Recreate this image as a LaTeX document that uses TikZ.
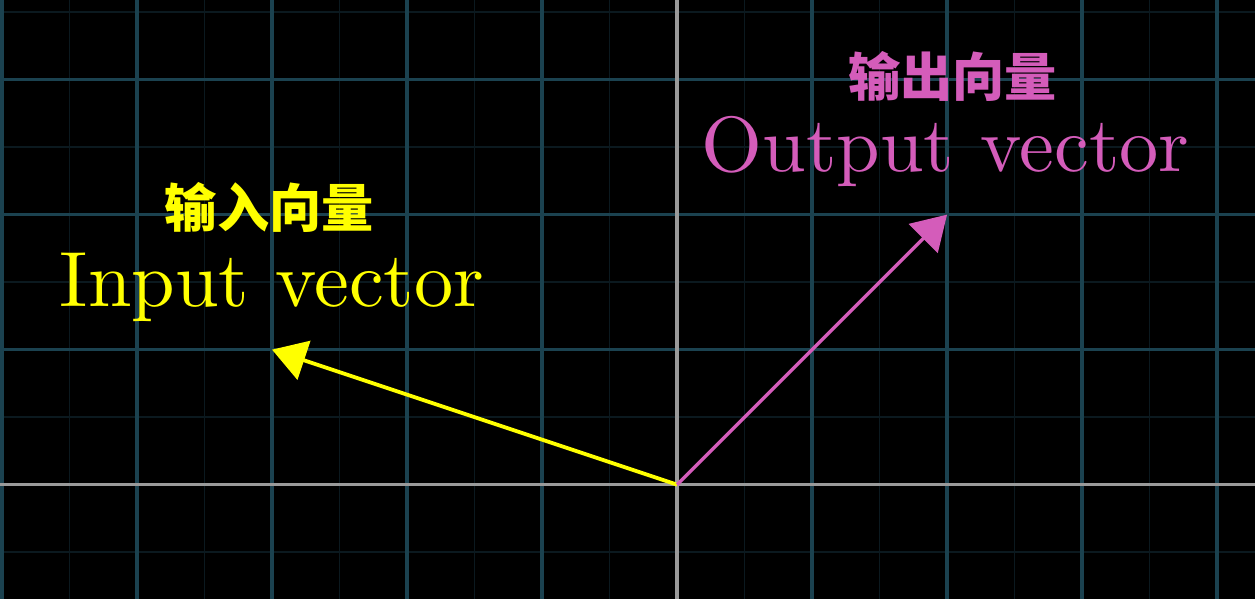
\documentclass[tikz,border=0pt]{standalone}
\usepackage{fontspec}
\setmainfont{lmroman10-regular}[Extension=.otf]
\newfontfamily\cjk{Noto Sans CJK SC}
\usetikzlibrary{arrows.meta, positioning}
\definecolor{vecin}{RGB}{255,255,0}
\definecolor{vecout}{RGB}{212,92,186}
\definecolor{gridmajor}{RGB}{27,66,80}
\definecolor{gridminor}{RGB}{11,25,31}
\definecolor{axisgrey}{RGB}{154,154,154}

\begin{document}
\begin{tikzpicture}[
  vec/.style={line width=0.8pt, -{Triangle[length=0.25cm, width=0.3cm]}},
  enlabel/.style={anchor=base, inner sep=0pt, font=\fontsize{16.5}{20}\selectfont},
  cnlabel/.style={inner sep=0pt, font=\cjk\bfseries\fontsize{11}{13}\selectfont}
]
  % background and frame
  \fill[black] (-5.015,-0.847) rectangle (4.281,3.590);
  \useasboundingbox (-5.015,-0.847) rectangle (4.281,3.590);
  \clip (-5.015,-0.847) rectangle (4.281,3.590);
  % number plane
  \draw[gridminor, line width=0.3pt, step=0.5] (-5.5,-1) grid (4.5,4);
  \draw[gridmajor, line width=0.7pt, step=1] (-5.5,-1) grid (4.5,4);
  \draw[axisgrey, line width=0.7pt] (-5.1,0) -- (4.4,0);
  \draw[axisgrey, line width=0.7pt] (0,-0.9) -- (0,3.7);
  % vectors
  \coordinate (O) at (0,0);
  \coordinate (vin) at (-3,1);
  \coordinate (vout) at (2,2);
  \draw[vec, vecin] (O) -- (vin);
  \draw[vec, vecout, line width=0.7pt] (O) -- (vout);
  % labels
  \node[enlabel, vecin] (inlabel) at (-3,1.32) {Input vector};
  \node[cnlabel, vecin] (incn) at (-3.02,2.05) {输入向量};
  \node[enlabel, vecout] (outlabel) at (1.99,2.32) {Output vector};
  \node[cnlabel, vecout] (outcn) at (2.04,3.02) {输出向量};
\end{tikzpicture}
\end{document}
